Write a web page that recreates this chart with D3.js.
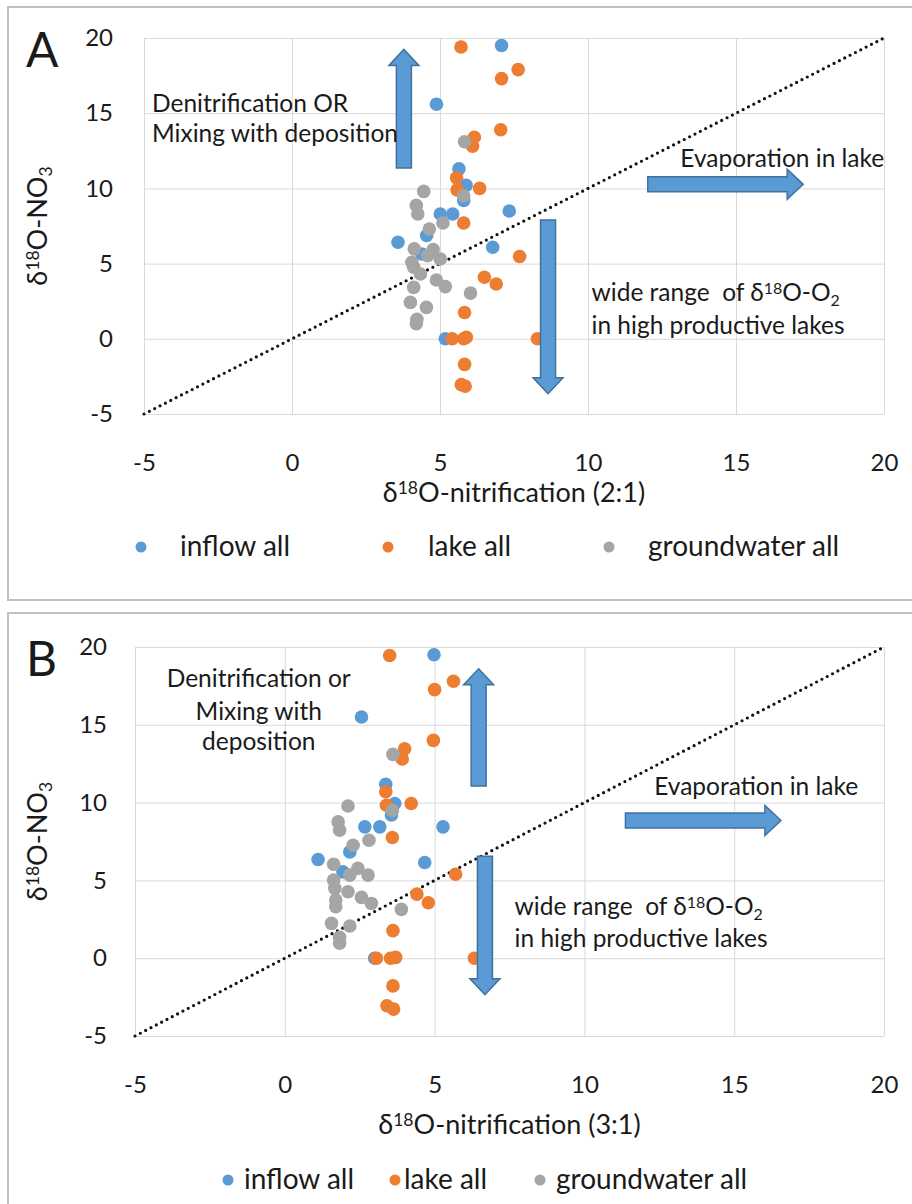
<!DOCTYPE html>
<html>
<head>
<meta charset="utf-8">
<script src="https://cdn.jsdelivr.net/npm/d3@7"></script>
<style>
  body { margin: 0; background: #fff; }
  text { font-family: Lato, "Open Sans", sans-serif; fill: #1a1a1a; white-space: pre; }
</style>
</head>
<body>
<script>
// tick values (both axes, both panels)
var xTicks = [-5, 0, 5, 10, 15, 20];
var yTicks = [-5, 0, 5, 10, 15, 20];
var seriesNames = ["inflow all", "lake all", "groundwater all"];
var seriesColors = ["#5b9bd5", "#ed7d31", "#a5a5a5"];

// panel A : d18O-nitrification (2:1) vs d18O-NO3
var inflowA = [[7.08,19.5],[4.88,15.6],[5.64,11.3],[5.88,10.2],[5.8,9.2],[5.01,8.3],[5.43,8.3],
  [7.34,8.5],[4.55,6.87],[3.58,6.42],[4.39,5.64],[6.78,6.09],[5.18,0]];
var lakeA = [[5.71,19.4],[7.08,17.3],[7.64,17.9],[7.05,13.9],[6.16,13.4],[6.1,12.8],[5.56,10.7],
  [6.34,10.0],[5.58,9.9],[5.8,7.7],[7.69,5.47],[6.5,4.09],[6.9,3.64],[5.83,1.75],[5.41,0],[5.8,0],
  [5.89,0.1],[8.29,0],[5.83,-1.7],[5.72,-3.05],[5.85,-3.15]];
var groundwaterA = [[5.83,13.1],[5.8,9.5],[4.45,9.8],[4.2,8.87],[4.25,8.3],[5.1,7.7],[4.64,7.3],
  [4.13,5.98],[4.77,5.93],[4.58,5.53],[5.01,5.31],[4.05,5.09],[4.11,4.76],[4.34,4.31],[4.88,3.91],
  [5.18,3.47],[4.11,3.42],[6.03,3.04],[4.0,2.42],[4.54,2.09],[4.22,1.3],[4.2,1.0]];

// panel B : d18O-nitrification (3:1) vs d18O-NO3
var inflowB = [[4.98,19.5],[2.56,15.5],[3.37,11.17],[3.67,9.94],[3.56,9.2],[2.67,8.44],[3.17,8.44],
  [5.28,8.44],[2.17,6.83],[1.11,6.34],[4.67,6.15],[1.94,5.55],[3.0,0]];
var lakeB = [[3.5,19.45],[5.63,17.8],[5.0,17.26],[4.96,14.0],[4.0,13.46],[3.92,12.8],[3.37,10.7],
  [4.22,9.94],[3.39,9.83],[3.59,7.76],[5.7,5.4],[4.41,4.12],[4.79,3.56],[3.61,1.77],[3.06,0],[3.53,0],
  [3.7,0.05],[6.33,0],[3.61,-1.78],[3.41,-3.06],[3.63,-3.27]];
var groundwaterB = [[3.61,13.1],[3.59,9.5],[2.11,9.78],[1.78,8.76],[1.83,8.22],[2.81,7.58],[2.28,7.26],
  [1.63,6.04],[2.44,5.77],[2.78,5.34],[1.63,5.02],[2.17,5.34],[1.67,4.49],[2.11,4.27],[2.56,3.91],
  [2.89,3.52],[1.7,3.74],[1.7,3.31],[3.89,3.14],[1.56,2.24],[2.17,2.07],[1.83,1.35],[1.83,0.96]];

// annotation arrows, in data units: [x0, y0, x1(tip), y1(tip)]
var arrowsA = [[3.78,11.35,3.78,19.24],[8.65,7.9,8.65,-3.65],[12.02,10.27,17.27,10.27]];
var arrowsB = [[6.47,11.06,6.47,18.6],[6.68,6.56,6.68,-2.35],[11.37,8.85,16.56,8.85]];

var svg = d3.select("body").append("svg")
  .attr("width", 912)
  .attr("height", 1204);

// outer frames
svg.append("rect").attr("x", 8).attr("y", 7).attr("width", 910).attr("height", 593)
  .attr("fill", "none").attr("stroke", "#bfbfbf").attr("stroke-width", 2);
svg.append("rect").attr("x", 8).attr("y", 613).attr("width", 910).attr("height", 600)
  .attr("fill", "none").attr("stroke", "#bfbfbf").attr("stroke-width", 2);

function arrowPath(p0, p1, sw, hw, hl) {
  var dx = p1[0] - p0[0], dy = p1[1] - p0[1];
  var len = Math.sqrt(dx*dx + dy*dy);
  var ux = dx/len, uy = dy/len, nx = -uy, ny = ux;
  var bx = p1[0] - ux*hl, by = p1[1] - uy*hl;
  var pts = [
    [p0[0] + nx*sw, p0[1] + ny*sw],
    [bx + nx*sw, by + ny*sw],
    [bx + nx*hw, by + ny*hw],
    [p1[0], p1[1]],
    [bx - nx*hw, by - ny*hw],
    [bx - nx*sw, by - ny*sw],
    [p0[0] - nx*sw, p0[1] - ny*sw]
  ];
  return "M" + pts.map(function(p){ return p[0] + "," + p[1]; }).join("L") + "Z";
}

function delta18(sel, rest, sub) {
  sel.append("tspan").text("δ");
  sel.append("tspan").text("18").attr("font-size", "0.65em").attr("dy", "-0.45em");
  sel.append("tspan").text(rest).attr("dy", "0.3em");
  if (sub) sel.append("tspan").text(sub).attr("font-size", "0.65em").attr("dy", "0.3em");
}

function drawPanel(cfg) {
  var g = svg.append("g");
  var x = d3.scaleLinear().domain([-5, 20]).range([cfg.left, cfg.right]);
  var y = d3.scaleLinear().domain([-5, 20]).range([cfg.bottom, cfg.top]);
  var fmt = function(d){ return String(d); };

  // gridlines + y axis
  var ya = g.append("g")
    .attr("transform", "translate(" + cfg.left + ",0)")
    .call(d3.axisLeft(y).tickValues(yTicks).tickFormat(fmt)
      .tickSize(-(cfg.right - cfg.left)).tickPadding(cfg.yPad));
  ya.select(".domain").remove();
  ya.selectAll("line").attr("stroke", "#d9d9d9");
  ya.selectAll("text").attr("font-size", 24).attr("font-family", "Lato");

  var xa = g.append("g")
    .attr("transform", "translate(0," + cfg.bottom + ")")
    .call(d3.axisBottom(x).tickValues(xTicks).tickFormat(fmt)
      .tickSize(-(cfg.bottom - cfg.top)).tickPadding(40));
  xa.select(".domain").remove();
  xa.selectAll("line").attr("stroke", "#d9d9d9");
  xa.selectAll("text").attr("font-size", 24).attr("font-family", "Lato");

  // 1:1 line
  g.append("line")
    .attr("x1", x(-5)).attr("y1", y(-5)).attr("x2", x(20)).attr("y2", y(20))
    .attr("stroke", "#111").attr("stroke-width", 3.2)
    .attr("stroke-linecap", "round").attr("stroke-dasharray", "0,6");

  // points
  cfg.series.forEach(function(s, i) {
    g.append("g").selectAll("circle")
      .data(s)
      .enter().append("circle")
      .attr("cx", function(d){ return x(d[0]); })
      .attr("cy", function(d){ return y(d[1]); })
      .attr("r", 6.8)
      .attr("fill", seriesColors[i]);
  });

  // arrows
  cfg.arrows.forEach(function(a) {
    g.append("path")
      .attr("d", arrowPath([x(a[0]), y(a[1])], [x(a[2]), y(a[3])], 7.5, 15, 16))
      .attr("fill", "#5b9bd5").attr("stroke", "#41719c").attr("stroke-width", 1.5);
  });

  // annotation text
  cfg.notes.forEach(function(n) {
    var t = g.append("text")
      .attr("x", x(n.x)).attr("y", y(n.y))
      .attr("font-size", 24.5)
      .attr("text-anchor", n.anchor || "start");
    if (n.delta) {
      t.append("tspan").text(n.text);
      delta18(t, "O-O", "2");
    } else {
      t.text(n.text);
    }
  });

  // panel letter
  g.append("text").attr("x", 26).attr("y", cfg.top + 29)
    .attr("font-family", "Liberation Sans").attr("font-size", 48).text(cfg.letter);

  // axis titles
  var xt = g.append("text")
    .attr("x", (cfg.left + cfg.right)/2).attr("y", cfg.bottom + cfg.titleGap)
    .attr("text-anchor", "middle").attr("font-size", 27);
  delta18(xt, "O-nitrification (" + cfg.ratio + ")");

  var yt = g.append("text")
    .attr("transform", "translate(47," + (cfg.top + cfg.bottom)/2 + ") rotate(-90)")
    .attr("text-anchor", "middle").attr("font-size", 27);
  delta18(yt, "O-NO", "3");

  // legend
  var lg = g.append("g");
  seriesNames.forEach(function(name, i) {
    lg.append("circle")
      .attr("cx", cfg.legendDots[i]).attr("cy", cfg.legendY)
      .attr("r", 5.5).attr("fill", seriesColors[i]);
    lg.append("text")
      .attr("x", cfg.legendText[i]).attr("y", cfg.legendY + 9)
      .attr("font-size", 28).text(name);
  });
}

drawPanel({
  letter: "A", ratio: "2:1",
  left: 144, right: 884, top: 38, bottom: 414, yPad: 31, titleGap: 88,
  series: [inflowA, lakeA, groundwaterA],
  arrows: arrowsA,
  notes: [
    {x: -4.73, y: 15.06, text: "Denitrification OR"},
    {x: -4.73, y: 13.07, text: "Mixing with deposition"},
    {x: 13.12, y: 11.41, text: "Evaporation in lake"},
    {x: 10.12, y: 2.52, text: "wide range  of ", delta: true},
    {x: 10.12, y: 0.33, text: "in high productive lakes"}
  ],
  legendY: 547, legendDots: [141, 388, 609], legendText: [180, 428, 648]
});

drawPanel({
  letter: "B", ratio: "3:1",
  left: 135, right: 884, top: 647, bottom: 1036, yPad: 28, titleGap: 98,
  series: [inflowB, lakeB, groundwaterB],
  arrows: arrowsB,
  notes: [
    {x: -0.87, y: 17.4, text: "Denitrification or", anchor: "middle"},
    {x: -0.87, y: 15.28, text: "Mixing with", anchor: "middle"},
    {x: -0.87, y: 13.35, text: "deposition", anchor: "middle"},
    {x: 12.33, y: 10.47, text: "Evaporation in lake"},
    {x: 7.67, y: 2.78, text: "wide range  of ", delta: true},
    {x: 7.67, y: 0.74, text: "in high productive lakes"}
  ],
  legendY: 1180, legendDots: [228, 395, 540], legendText: [244, 404, 556]
});
</script>
</body>
</html>
